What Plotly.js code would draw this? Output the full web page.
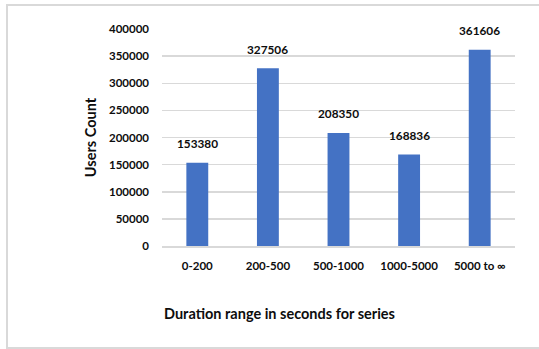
<!DOCTYPE html>
<html>
<head>
<meta charset="utf-8">
<script src="https://cdn.plot.ly/plotly-3.0.1.min.js"></script>
<style>
  html, body { margin: 0; padding: 0; background: #fff; width: 539px; height: 349px; overflow: hidden; }
  #frame { position: absolute; left: 6px; top: 4px; width: 600px; height: 341px; border: 2px solid #d9d9d9; box-sizing: content-box; }
  #chart { position: absolute; left: 0; top: 0; width: 539px; height: 349px; }
</style>
</head>
<body>
<div id="frame"></div>
<div id="chart"></div>
<script>
// Users per session-duration bucket
const categories = ['0-200', '200-500', '500-1000', '1000-5000', '5000 to \u221e'];
const usersCount = [153380, 327506, 208350, 168836, 361606];
const yTicks = [0, 50000, 100000, 150000, 200000, 250000, 300000, 350000, 400000];

const FONT = 'Lato, "Open Sans", sans-serif';
const INK = '#0d0d0d';

const bars = {
  type: 'bar',
  x: categories,
  y: usersCount,
  marker: { color: '#4472c4' },
  width: 0.31,
  hoverinfo: 'x+y'
};

// value labels above each bar
const valueLabels = categories.map((c, i) => ({
  x: c,
  y: usersCount[i],
  xref: 'x',
  yref: 'y',
  text: String(usersCount[i]),
  showarrow: false,
  yanchor: 'middle',
  yshift: 19,
  font: { family: FONT, size: 11.8, color: INK, weight: 'bold' }
}));

const layout = {
  width: 539,
  height: 349,
  margin: { l: 162, r: 24, t: 29, b: 102.5, pad: 0 },
  paper_bgcolor: 'rgba(0,0,0,0)',
  plot_bgcolor: 'rgba(0,0,0,0)',
  showlegend: false,
  font: { family: FONT, color: INK },
  xaxis: {
    type: 'category',
    showgrid: false,
    showline: true,
    linecolor: '#d9d9d9',
    linewidth: 1.5,
    ticks: '',
    ticklabelstandoff: 9,
    tickfont: { family: FONT, size: 11.5, color: INK, weight: 'bold' },
    fixedrange: true
  },
  yaxis: {
    range: [0, 400000],
    tickmode: 'array',
    tickvals: yTicks,
    ticktext: yTicks.map(String),
    showgrid: true,
    gridcolor: '#d9d9d9',
    gridwidth: 1.5,
    zeroline: false,
    showline: false,
    ticks: '',
    ticklabelstandoff: 12,
    tickfont: { family: FONT, size: 11.5, color: INK, weight: 'bold' },
    title: {
      text: 'Users Count',
      standoff: 8,
      font: { family: FONT, size: 14.5, color: INK, weight: 'bold' }
    },
    automargin: false,
    fixedrange: true
  },
  annotations: valueLabels.concat([{
    xref: 'paper',
    yref: 'paper',
    x: 0.334,
    y: -0.31,
    xanchor: 'center',
    yanchor: 'middle',
    showarrow: false,
    text: 'Duration range in seconds for series',
    font: { family: FONT, size: 14.5, color: INK, weight: 'bold' }
  }]),
  bargap: 0.69
};

Plotly.newPlot('chart', [bars], layout, { displayModeBar: false, staticPlot: true });
</script>
</body>
</html>
